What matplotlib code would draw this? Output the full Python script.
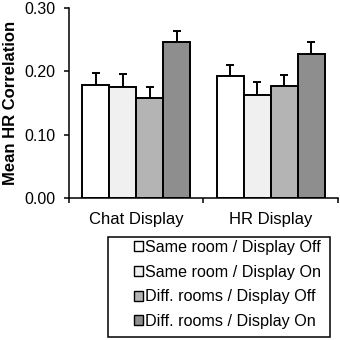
import numpy as np
import matplotlib
matplotlib.use('Agg')
import matplotlib.pyplot as plt
from matplotlib.patches import Patch, Rectangle

plt.rcParams['font.family'] = ['Liberation Sans', 'DejaVu Sans']

# data
groups = ['Chat Display', 'HR Display']
conditions = ['Same room / Display Off', 'Same room / Display On',
              'Diff. rooms / Display Off', 'Diff. rooms / Display On']
means = np.array([[0.179, 0.176, 0.158, 0.247],
                  [0.192, 0.163, 0.177, 0.228]])
errs = np.array([[0.019, 0.020, 0.018, 0.017],
                 [0.018, 0.020, 0.018, 0.019]])
colors = ['#ffffff', '#f0f0f0', '#b4b4b4', '#8e8e8e']

fig = plt.figure(figsize=(3.4, 3.4), dpi=100)
ax = fig.add_axes([0.203, 0.418, 0.791, 0.558])

width = 0.2
centers = np.arange(len(groups)) + 0.5
for i, cond in enumerate(conditions):
    x = centers + (i - 1.5) * width
    ax.bar(x, means[:, i], width, color=colors[i], edgecolor='black',
           linewidth=1.4, label=cond, zorder=2)
    ax.errorbar(x, means[:, i], yerr=[np.zeros(len(groups)), errs[:, i]],
                fmt='none', ecolor='black', elinewidth=1.4, capsize=2.6,
                capthick=1.4, zorder=1)

ax.set_xlim(0, 2)
ax.set_ylim(0, 0.30)
ax.set_yticks([0, 0.1, 0.2, 0.3])
ax.set_yticklabels(['0.00', '0.10', '0.20', '0.30'], fontsize=11.5)
ax.set_xticks(centers)
ax.set_xticklabels(groups, fontsize=12)
ax.tick_params(axis='x', which='major', length=0, pad=10)
ax.set_xticks([0, 1, 2], minor=True)
ax.tick_params(axis='x', which='minor', length=3.6, width=1.1)
ax.tick_params(axis='y', length=3.6, width=1.1, pad=6)
ax.set_ylabel('Mean HR Correlation', fontsize=12, fontweight='bold')
ax.yaxis.set_label_coords(-0.19, 0.5)
for s in ['top', 'right']:
    ax.spines[s].set_visible(False)
for s in ['left', 'bottom']:
    ax.spines[s].set_linewidth(1.1)

# legend box drawn separately, entries sit toward its left side
fig.patches.append(Rectangle((108 / 340, 3 / 340), 222 / 340, 100 / 340,
                             transform=fig.transFigure, fill=False,
                             edgecolor='black', linewidth=1.1))
handles = [Patch(facecolor=c, edgecolor='black', linewidth=1) for c in colors]
leg = fig.legend(handles, conditions, loc='center left',
                 bbox_to_anchor=(134 / 340, (340 - 284.5) / 340),
                 fontsize=11.6, handlelength=0.56, handleheight=0.56,
                 handletextpad=0.15, labelspacing=0.6, borderpad=0,
                 borderaxespad=0, frameon=False)

fig.savefig('out.png', dpi=100)
